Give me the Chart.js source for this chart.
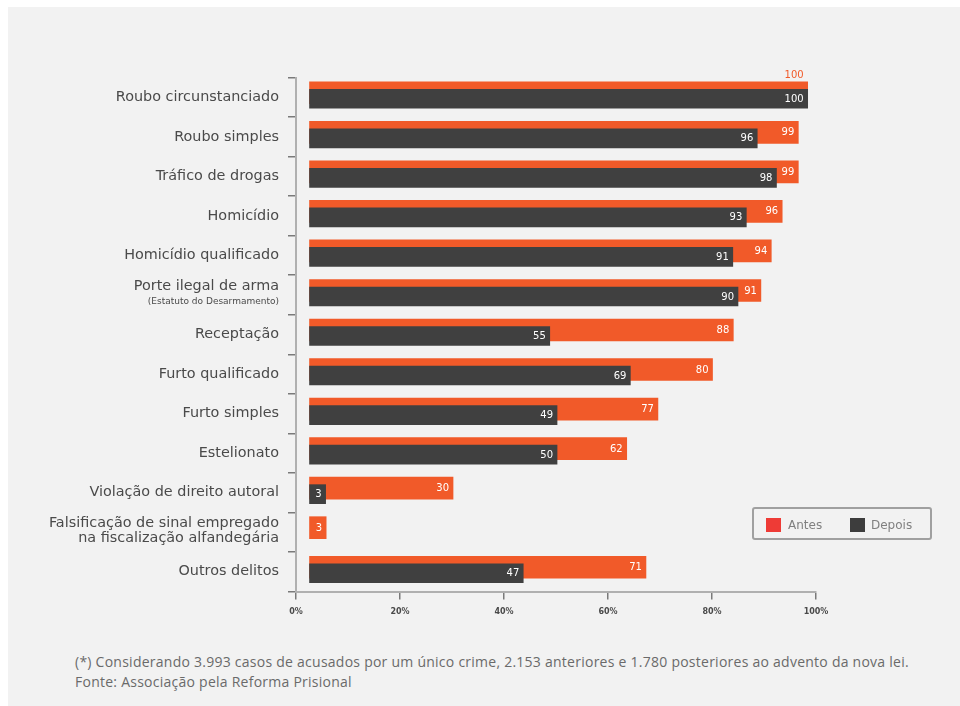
<!DOCTYPE html>
<html lang="pt">
<head>
<meta charset="utf-8">
<script src="https://cdn.jsdelivr.net/npm/chart.js@4.4.1/dist/chart.umd.min.js"></script>
<style>
  html, body { margin:0; padding:0; background:#ffffff; width:960px; height:706px; overflow:hidden; }
  #panel { position:absolute; left:8px; top:7px; width:952px; height:699px; background:#f2f2f2; }
  #wrap { position:absolute; left:0; top:0; width:952px; height:630px; }
  #legend { position:absolute; left:744px; top:500px; width:180px; height:33px; box-sizing:border-box;
            border:2px solid #a0a0a0; border-radius:3px; font-family:"DejaVu Sans", sans-serif; font-size:12px; color:#808080; }
  #legend .sw { position:absolute; top:9px; width:15px; height:14px; }
  #legend .tx { position:absolute; top:8px; line-height:16px; }
  #note { position:absolute; left:67px; top:645px; font-family:"Open Sans", sans-serif; font-size:14px; letter-spacing:0.25px; line-height:20px; color:#6a6a6a; white-space:nowrap; }
</style>
</head>
<body>
<div id="panel">
  <div id="wrap"><canvas id="c"></canvas></div>
  <div id="legend">
    <div class="sw" style="left:12px;background:#ee3b36"></div><div class="tx" style="left:34px">Antes</div>
    <div class="sw" style="left:96px;background:#3d3d3d"></div><div class="tx" style="left:117px">Depois</div>
  </div>
  <div id="note">(*) Considerando 3.993 casos de acusados por um único crime, 2.153 anteriores e 1.780 posteriores ao advento da nova lei.<br>Fonte: Associação pela Reforma Prisional</div>
</div>
<script>
// ---- data ----
const categories = [
  'Roubo circunstanciado',
  'Roubo simples',
  'Tráfico de drogas',
  'Homicídio',
  'Homicídio qualificado',
  ['Porte ilegal de arma', '(Estatuto do Desarmamento)'],
  'Receptação',
  'Furto qualificado',
  'Furto simples',
  'Estelionato',
  'Violação de direito autoral',
  ['Falsificação de sinal empregado', 'na fiscalização alfandegária'],
  'Outros delitos'
];
// printed values
const antesLabels  = [100, 99, 99, 96, 94, 91, 88, 80, 77, 62, 30, 3, 71];
const depoisLabels = [100, 96, 98, 93, 91, 90, 55, 69, 49, 50, 3, null, 47];
// bar ends as drawn in the picture (% of axis)
const antesBarEnd  = [98.4, 96.6, 96.6, 93.5, 91.4, 89.4, 84.1, 80.1, 69.6, 63.6, 30.2, 5.8, 67.3];
const depoisBarEnd = [98.4, 88.7, 92.4, 86.6, 84.0, 85.0, 48.8, 64.3, 50.2, 50.2, 5.7, null, 43.7];
const barBase = 2.6;
const xTickValues = [0, 20, 40, 60, 80, 100];

const ORANGE = '#f15a29';
const DARK = '#404040';
const LABEL_FONT = '"DejaVu Sans", sans-serif';

// shift each dataset vertically inside its band (style)
const shiftPlugin = {
  id: 'shift',
  beforeDatasetDraw(chart, args) {
    const ds = chart.data.datasets[args.index];
    chart.ctx.save();
    chart.ctx.translate(0, ds.shift || 0);
  },
  afterDatasetDraw(chart, args) {
    chart.ctx.restore();
  }
};

const labelPlugin = {
  id: 'labels',
  afterDatasetsDraw(chart) {
    const ctx = chart.ctx;
    const mA = chart.getDatasetMeta(0), mD = chart.getDatasetMeta(1);
    const sA = chart.data.datasets[0].shift, sD = chart.data.datasets[1].shift;
    ctx.save();
    ctx.font = '10px ' + LABEL_FONT;
    ctx.textAlign = 'right';
    ctx.textBaseline = 'middle';
    mA.data.forEach((el, i) => {
      if (antesLabels[i] == null) return;
      const dEl = mD.data[i];
      const dEnd = depoisBarEnd[i] == null ? -1 : dEl.x;
      if (el.x - dEnd < 10) {
        ctx.fillStyle = ORANGE;
        ctx.fillText(String(antesLabels[i]), el.x - 4, el.y + sA - 17.5);
      } else {
        ctx.fillStyle = '#ffffff';
        ctx.fillText(String(antesLabels[i]), el.x - 4, el.y + sA + 0.5);
      }
    });
    mD.data.forEach((el, i) => {
      if (depoisLabels[i] == null) return;
      ctx.fillStyle = '#ffffff';
      ctx.fillText(String(depoisLabels[i]), el.x - 4, el.y + sD + 0.5);
    });
    ctx.restore();
  }
};

const yLabelPlugin = {
  id: 'ylabels',
  afterDraw(chart) {
    const ctx = chart.ctx;
    const ys = chart.scales.y;
    const xr = ys.right - 17;
    ctx.save();
    ctx.textAlign = 'right';
    ctx.textBaseline = 'middle';
    ctx.fillStyle = '#4a4a4a';
    categories.forEach((lab, i) => {
      const c = ys.getPixelForValue(i);
      if (Array.isArray(lab)) {
        ctx.font = '14.4px ' + LABEL_FONT;
        ctx.fillText(lab[0], xr, c - 8.5);
        if (lab[1].startsWith('(')) {
          ctx.font = '9px ' + LABEL_FONT;
          ctx.fillText(lab[1], xr, c + 7);
        } else {
          ctx.fillText(lab[1], xr, c + 6);
        }
      } else {
        ctx.font = '14.4px ' + LABEL_FONT;
        ctx.fillText(lab, xr, c);
      }
    });
    ctx.restore();
  }
};

new Chart(document.getElementById('c'), {
  type: 'bar',
  data: {
    labels: categories.map(l => Array.isArray(l) ? l.join(' ') : l),
    datasets: [
      {
        label: 'Antes',
        data: antesBarEnd.map(v => v == null ? null : [barBase, v]),
        backgroundColor: ORANGE,
        barThickness: 22,
        grouped: false,
        order: 1,
        shift: -4.5
      },
      {
        label: 'Depois',
        data: depoisBarEnd.map(v => v == null ? null : [barBase, v]),
        backgroundColor: DARK,
        barThickness: 19,
        grouped: false,
        order: 0,
        shift: 1.5
      }
    ]
  },
  options: {
    indexAxis: 'y',
    responsive: true,
    maintainAspectRatio: false,
    animation: false,
    layout: { padding: { top: 70.5, right: 144, left: 0, bottom: 0 } },
    plugins: { legend: { display: false }, tooltip: { enabled: false } },
    scales: {
      y: {
        type: 'category',
        offset: true,
        ticks: { display: false },
        grid: { display: true, drawOnChartArea: false, drawTicks: true, tickLength: 8, color: '#7a7a7a', lineWidth: 1.5, offset: true },
        border: { display: true, color: '#b0b0b0', width: 2 },
        afterFit(scale) { scale.width = 288; }
      },
      x: {
        type: 'linear',
        min: 0,
        max: 100,
        afterBuildTicks(scale) { scale.ticks = xTickValues.map(v => ({ value: v })); },
        ticks: {
          callback: v => v + '%',
          font: { family: 'DejaVu Sans', size: 8, weight: 'bold' },
          color: '#4a4a4a',
          padding: 8,
          maxRotation: 0
        },
        grid: { display: true, drawOnChartArea: false, drawTicks: true, tickLength: 8, color: '#7a7a7a', lineWidth: 1.5 },
        border: { display: true, color: '#b0b0b0', width: 2 },
        afterFit(scale) { scale.height = 45.5; }
      }
    }
  },
  plugins: [shiftPlugin, labelPlugin, yLabelPlugin]
});
</script>
</body>
</html>
